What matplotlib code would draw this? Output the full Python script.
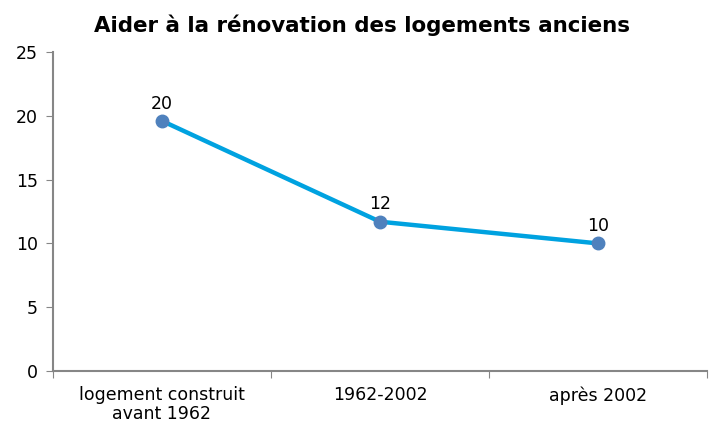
import matplotlib
matplotlib.use('Agg')
import matplotlib.pyplot as plt
import matplotlib.ticker as ticker

categories = ['logement construit\navant 1962', '1962-2002', 'après 2002']
values = [19.6, 11.7, 10.0]
point_labels = ['20', '12', '10']

fig = plt.figure(figsize=(7.1, 4.24), dpi=100)
ax = fig.add_axes([53 / 710, 53 / 424, 654 / 710, 319 / 424])

x = list(range(len(categories)))
ax.plot(x, values, color='#00a2e0', linewidth=3.2, zorder=2)
ax.plot(x, values, linestyle='none', marker='o', markersize=9,
        color='#4f81bd', zorder=3)

for xi, v, lab in zip(x, values, point_labels):
    ax.annotate(lab, (xi, v), xytext=(0, 6), textcoords='offset points',
                ha='center', va='bottom', fontsize=12.5, color='black')

ax.set_xlim(-0.5, 2.5)
ax.set_ylim(0, 25)
ax.yaxis.set_major_locator(ticker.MultipleLocator(5))

# category labels between the boundary ticks
ax.set_xticks([-0.5, 0.5, 1.5, 2.5])
ax.set_xticklabels([])
ax.set_xticks(x, minor=True)
ax.set_xticklabels(categories, minor=True, fontsize=12.5, va='top', linespacing=1.05)
ax.tick_params(axis='x', which='minor', length=0, pad=11)
ax.tick_params(axis='x', which='major', length=5, color='#868686')
ax.tick_params(axis='y', length=5, color='#868686', labelsize=12.5, pad=6)

for side in ['top', 'right']:
    ax.spines[side].set_visible(False)
for side in ['left', 'bottom']:
    ax.spines[side].set_color('#868686')
    ax.spines[side].set_linewidth(1.5)

fig.text(362 / 710, 1 - 25 / 424, 'Aider à la rénovation des logements anciens',
         ha='center', va='center', fontsize=15.4, fontweight='bold')

fig.savefig('out.png', dpi=100)
